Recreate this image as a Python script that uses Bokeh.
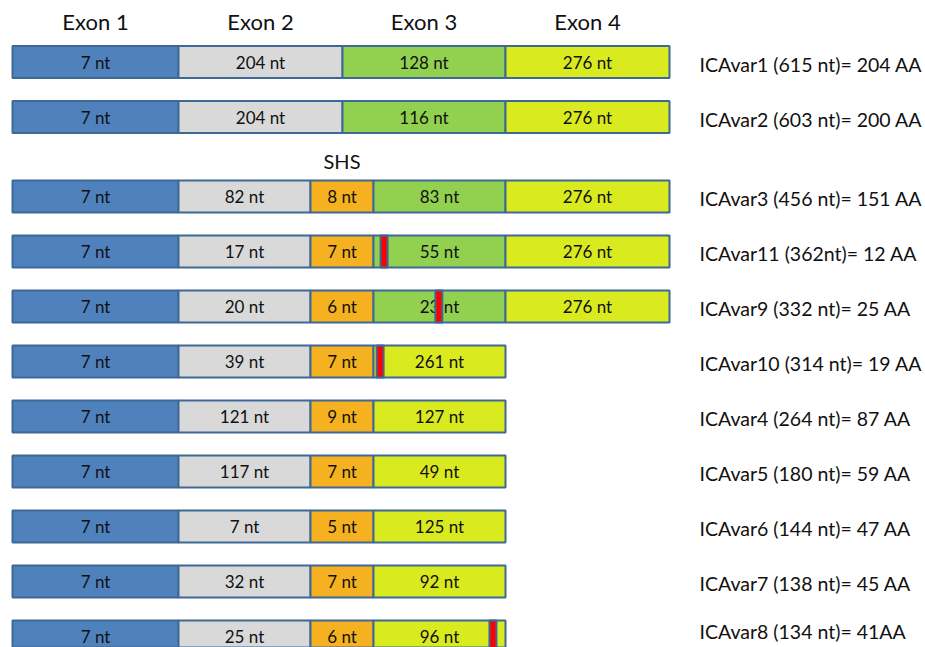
from bokeh.plotting import figure
from bokeh.models import Range1d, ColumnDataSource
from bokeh.core.properties import value
from bokeh.embed import file_html
from bokeh.resources import INLINE

# ---------------- data ----------------
exon_headers = ["Exon 1", "Exon 2", "Exon 3", "Exon 4"]
variant_labels = [
    "ICAvar1 (615 nt)= 204 AA",
    "ICAvar2 (603 nt)= 200 AA",
    "ICAvar3 (456 nt)= 151 AA",
    "ICAvar11 (362nt)= 12 AA",
    "ICAvar9 (332 nt)= 25 AA",
    "ICAvar10 (314 nt)= 19 AA",
    "ICAvar4 (264 nt)= 87 AA",
    "ICAvar5 (180 nt)= 59 AA",
    "ICAvar6 (144 nt)= 47 AA",
    "ICAvar7 (138 nt)= 45 AA",
    "ICAvar8 (134 nt)= 41AA",
]
exon1_nt = [7, 7, 7, 7, 7, 7, 7, 7, 7, 7, 7]
exon2_nt = [204, 204, 82, 17, 20, 39, 121, 117, 7, 32, 25]
shs_nt = [None, None, 8, 7, 6, 7, 9, 7, 5, 7, 6]
exon3_nt = [128, 116, 83, 55, 23, None, None, None, None, None, None]
exon4_nt = [276, 276, 276, 276, 276, 261, 127, 49, 125, 92, 96]
# premature stop codon marks: (row, segment, relative position inside segment)
stop_rows = [3, 4, 5, 10]
stop_segment = ["exon3", "exon3", "exon4", "exon4"]
stop_rel_pos = [0.08, 0.495, 0.05, 0.905]

# ---------------- layout / style ----------------
COL = {"e1": (12, 178), "e2": (178, 342), "e3": (342, 505), "e4": (505, 669)}
SHS_COL = {"e2": (178, 310), "shs": (310, 373), "e3": (373, 505), "e4": (505, 669)}
SHORT_COL = {"e2": (178, 310), "shs": (310, 373), "e4": (373, 505)}
COLORS = {"e1": "#4f81bd", "e2": "#d9d9d9", "shs": "#f5b120", "e3": "#92d050", "e4": "#d9ea1f"}
BORDER = "#3e6896"
ROW_Y = [61.5, 116.5] + [196 + 55 * i for i in range(9)]
BAR_H = 32
FONT = "Lato"

p = figure(width=925, height=647, output_backend="svg", toolbar_location=None,
           x_range=Range1d(0, 925), y_range=Range1d(647, 0), min_border=0)
p.axis.visible = False
p.grid.visible = False
p.outline_line_color = None
p.background_fill_color = "white"

lefts, rights, ys, cols, texts = [], [], [], [], []
seg_pos = {}
for i in range(len(variant_labels)):
    segs = [("e1", COL["e1"], exon1_nt[i])]
    if shs_nt[i] is None:
        segs += [("e2", COL["e2"], exon2_nt[i]), ("e3", COL["e3"], exon3_nt[i]),
                 ("e4", COL["e4"], exon4_nt[i])]
    elif exon3_nt[i] is not None:
        segs += [("e2", SHS_COL["e2"], exon2_nt[i]), ("shs", SHS_COL["shs"], shs_nt[i]),
                 ("e3", SHS_COL["e3"], exon3_nt[i]), ("e4", SHS_COL["e4"], exon4_nt[i])]
    else:
        segs += [("e2", SHORT_COL["e2"], exon2_nt[i]), ("shs", SHORT_COL["shs"], shs_nt[i]),
                 ("e4", SHORT_COL["e4"], exon4_nt[i])]
    for kind, (l, r), nt in segs:
        lefts.append(l); rights.append(r); ys.append(ROW_Y[i])
        cols.append(COLORS[kind]); texts.append(f"{nt} nt")
        seg_pos[(i, {"e3": "exon3", "e4": "exon4"}.get(kind, kind))] = (l, r)

src = ColumnDataSource(dict(left=lefts, right=rights, y=ys, color=cols, text=texts,
                            cx=[(a + b) / 2 for a, b in zip(lefts, rights)]))
p.hbar(y="y", left="left", right="right", height=BAR_H, fill_color="color",
       line_color=BORDER, line_width=2, source=src)
p.text(x="cx", y="y", text="text", source=src, text_align="center",
       text_baseline="middle", text_font=value(FONT), text_font_size="17px",
       text_color="#111111")

# stop codon marks
sx, sy = [], []
for r, seg, rel in zip(stop_rows, stop_segment, stop_rel_pos):
    l, rr = seg_pos[(r, seg)]
    sx.append(l + rel * (rr - l)); sy.append(ROW_Y[r])
p.rect(x=sx, y=sy, width=7, height=BAR_H, fill_color="#ff0000", line_color=BORDER,
       line_width=2)

# headers
hx = [(a + b) / 2 for a, b in COL.values()]
p.text(x=hx, y=[21] * 4, text=exon_headers, text_align="center", text_baseline="middle",
       text_font=value(FONT), text_font_size="22px", text_color="#111111")
p.text(x=[(SHS_COL["shs"][0] + SHS_COL["shs"][1]) / 2], y=[160], text=["SHS"],
       text_align="center", text_baseline="middle", text_font=value(FONT),
       text_font_size="20px", text_color="#111111")

# variant labels (kept inside the bottom edge)
p.text(x=[699] * len(variant_labels), y=[min(y + 2, 631) for y in ROW_Y],
       text=variant_labels, text_align="left", text_baseline="middle",
       text_font=value(FONT), text_font_size="19.5px", text_color="#111111")

open("out.html", "w").write(file_html(p, INLINE))
